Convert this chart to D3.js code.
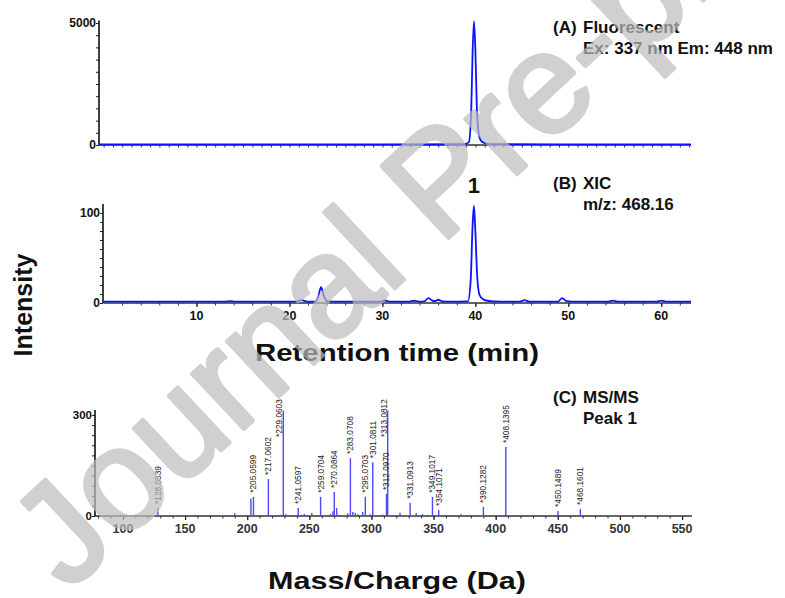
<!DOCTYPE html>
<html>
<head>
<meta charset="utf-8">
<script src="https://cdn.jsdelivr.net/npm/d3@7"></script>
<style>
  body { margin: 0; background: #fff; }
  text { font-family: "Liberation Sans", Arial, Helvetica, sans-serif; }
</style>
</head>
<body>
<svg id="chart" width="785" height="598"></svg>
<script>
// ---------- (A) fluorescence trace, Ex 337 / Em 448 ----------
const fluoTime = [-0.5, 10, 20, 30, 38.8, 39.3, 39.55, 39.7, 39.85, 40.0, 40.15, 40.35, 40.6, 41.0, 41.6, 50, 63.2];
const fluoInt  = [25, 25, 25, 25, 30, 120, 1400, 3800, 5080, 3900, 1600, 500, 180, 80, 35, 25, 25];

// ---------- (B) extracted ion chromatogram, m/z 468.16 ----------
const xicTime = [0, 13, 13.6, 14.2, 20.7, 21.3, 21.9, 22.8, 23.1, 23.4, 23.7, 24.05, 24.6, 29.8, 30.3, 30.8,
                 32.9, 33.4, 33.9, 34.5, 34.95, 35.4, 35.7, 36.0, 36.45, 37.2, 39.2, 39.5, 39.7, 39.85, 40.0,
                 40.2, 40.45, 40.8, 41.3, 42.0, 44.8, 45.3, 45.8, 48.9, 49.35, 49.8, 50.4, 54.3, 54.8, 55.3,
                 59.5, 60.0, 60.5, 63.2];
const xicInt  = [1.5, 1.5, 2.0, 1.5, 1.5, 3.2, 1.5, 1.6, 7, 17.5, 8, 2, 1.5, 1.5, 2.8, 1.5,
                 1.5, 2.5, 1.5, 1.8, 5.5, 2.5, 2.2, 3.6, 1.8, 1.5, 1.8, 25, 85, 108, 80,
                 30, 9, 4.5, 2.5, 1.8, 1.5, 3.2, 1.5, 1.6, 5.5, 2.0, 1.5, 1.5, 2.6, 1.5,
                 1.5, 2.7, 1.5, 1.5];
const peakLabel = "1";
const peakTime = 39.85;
const peakValue = 108;

// ---------- (C) MS/MS spectrum of peak 1 ----------
const labeledMz    = [128.0539, 205.0599, 217.0602, 229.0603, 241.0597, 259.0704, 270.0864, 283.0708,
                      295.0703, 301.0811, 312.0970, 313.0812, 331.0913, 349.1017, 354.1071, 390.1282,
                      408.1395, 450.1489, 468.1601];
const labeledInt   = [24, 57, 110, 313, 24, 57, 71, 172,
                      57, 160, 65, 313, 39, 57, 18, 27,
                      205, 15, 21];
const minorMz  = [82, 98, 113, 138, 146, 158, 172, 181, 190, 199, 203, 227, 231, 244, 246, 252, 255,
                  267, 269, 272, 281, 285, 287, 289, 293, 299, 309, 323, 336, 341, 345, 372, 380, 385,
                  420, 432, 470, 500];
const minorInt = [3, 4, 2, 3, 2, 4, 2, 3, 8, 2, 52, 4, 5, 4, 6, 9, 3,
                  6, 14, 24, 8, 12, 10, 5, 12, 5, 4, 10, 9, 6, 3, 5, 2, 3,
                  2, 2, 2, 1];

// ---------- tick labels and captions ----------
const ticksA = [0, 5000];
const ticksB = [0, 100];
const ticksTime = [10, 20, 30, 40, 50, 60];
const ticksC = [0, 300];
const ticksMz = [100, 150, 200, 250, 300, 350, 400, 450, 500, 550];
const captionA = ["(A)", "Fluorescent", "Ex: 337 nm Em: 448 nm"];
const captionB = ["(B)", "XIC", "m/z: 468.16"];
const captionC = ["(C)", "MS/MS", "Peak 1"];
const titleTime = "Retention time (min)";
const titleMz = "Mass/Charge (Da)";
const titleY = "Intensity";
const watermark = "Journal Pre-proof";

const svg = d3.select("#chart");
svg.append("rect").attr("width", 785).attr("height", 598).attr("fill", "#fff");

const traceColor = "#0a14ff";
const barColor = "#4b4bf0";

// scales
const xA = d3.scaleLinear().domain([-0.5, 63.2]).range([99, 691]);
const yA = d3.scaleLinear().domain([0, 5000]).range([145, 23]);
const xB = d3.scaleLinear().domain([0, 63.2]).range([103.5, 691]);
const yB = d3.scaleLinear().domain([0, 100]).range([303, 213]);
const xC = d3.scaleLinear().domain([77.5, 558]).range([95, 692]);
const yC = d3.scaleLinear().domain([0, 300]).range([516, 415]);

// vertical axis with bold end labels and fine minor ticks
function yAxis(g, y, x, ticks, top, minorStep, fontSize) {
  const gy = g.append("g").attr("transform", `translate(${x},0)`);
  gy.call(d3.axisLeft(y).tickValues(d3.range(0, top, minorStep)).tickSize(3).tickFormat(""))
    .call(s => s.select(".domain").remove())
    .call(s => s.selectAll("line").attr("stroke", "#222").attr("stroke-width", 1));
  gy.append("line").attr("y1", y(0)).attr("y2", y(top)).attr("stroke", "#111").attr("stroke-width", 1.6);
  gy.selectAll("text.lab").data(ticks).join("text").attr("class", "lab")
    .attr("x", -3).attr("y", d => y(d)).attr("dy", "0.36em")
    .attr("text-anchor", "end").attr("font-weight", "bold").attr("font-size", fontSize)
    .attr("fill", "#111").text(d => d);
}

// horizontal axis with minor ticks below and optional labels
function xAxis(g, x, y0, minorVals, majorVals, labelY, fontSize, color) {
  const gx = g.append("g").attr("transform", `translate(0,${y0})`);
  gx.call(d3.axisBottom(x).tickValues(minorVals).tickSize(2.5).tickFormat(""))
    .call(s => s.select(".domain").remove())
    .call(s => s.selectAll("line").attr("stroke", "#333").attr("stroke-width", 1));
  if (majorVals.length) {
    gx.append("g").call(d3.axisBottom(x).tickValues(majorVals).tickSize(4).tickFormat(""))
      .call(s => s.select(".domain").remove())
      .call(s => s.selectAll("line").attr("stroke", "#222").attr("stroke-width", 1.2));
    gx.selectAll("text.lab").data(majorVals).join("text").attr("class", "lab")
      .attr("x", d => x(d)).attr("y", labelY)
      .attr("text-anchor", "middle").attr("font-weight", "bold").attr("font-size", fontSize)
      .attr("fill", color).text(d => d);
  }
  gx.append("line").attr("x1", x.range()[0]).attr("x2", x.range()[1])
    .attr("stroke", "#333").attr("stroke-width", 1.4);
}

function caption(lines, x, y) {
  const g = svg.append("g").attr("font-weight", "bold").attr("font-size", 17).attr("fill", "#111");
  g.append("text").attr("x", x).attr("y", y).text(lines[0]);
  g.append("text").attr("x", x + 30).attr("y", y).text(lines[1]);
  g.append("text").attr("x", x + 30).attr("y", y + 21).text(lines[2]);
}

// ---------- panel A ----------
const gA = svg.append("g");
xAxis(gA, xA, 145, d3.range(0, 64, 1), [], 0, 12, "#111");
yAxis(gA, yA, 99, ticksA, 5100, 500, 12);
gA.append("path")
  .datum(fluoTime.map((t, i) => [t, fluoInt[i]]))
  .attr("fill", "none").attr("stroke", traceColor).attr("stroke-width", 1.8)
  .attr("d", d3.line().x(d => xA(d[0])).y(d => yA(d[1])).curve(d3.curveMonotoneX));
caption(captionA, 553, 33);

// ---------- panel B ----------
const gB = svg.append("g");
xAxis(gB, xB, 303, d3.range(2, 64, 2), ticksTime, 17, 12.5, "#111");
yAxis(gB, yB, 103, ticksB, 110, 10, 12);
gB.append("path")
  .datum(xicTime.map((t, i) => [t, xicInt[i]]))
  .attr("fill", "none").attr("stroke", traceColor).attr("stroke-width", 1.8)
  .attr("d", d3.line().x(d => xB(d[0])).y(d => yB(d[1])).curve(d3.curveMonotoneX));
gB.append("text").attr("x", xB(peakTime)).attr("y", yB(peakValue) - 13)
  .attr("text-anchor", "middle").attr("font-weight", "bold").attr("font-size", 22)
  .attr("fill", "#111").text(peakLabel);
caption(captionB, 553, 189);

// ---------- panel C ----------
const gC = svg.append("g");
xAxis(gC, xC, 516, d3.range(80, 558, 10), ticksMz, 17, 12.5, "#333");
yAxis(gC, yC, 95, ticksC, 315, 30, 11.5);
const allMz = minorMz.concat(labeledMz);
const allInt = minorInt.concat(labeledInt);
gC.selectAll("line.bar").data(allMz.map((m, i) => [m, allInt[i]])).join("line").attr("class", "bar")
  .attr("x1", d => xC(d[0])).attr("x2", d => xC(d[0]))
  .attr("y1", yC(0)).attr("y2", d => yC(d[1]))
  .attr("stroke", barColor).attr("stroke-width", 1.4);
// fragment labels; the tallest peaks carry theirs alongside the bar
const labelTop = 437;
gC.selectAll("text.frag").data(labeledMz.map((m, i) => [m, labeledInt[i]])).join("text").attr("class", "frag")
  .attr("transform", d => {
    const yTop = yC(d[1]) - 4;
    const beside = yTop < labelTop;
    const y0 = beside ? labelTop : yTop;
    const x0 = xC(d[0]) + (beside ? -1 : 3);
    return `translate(${x0},${y0}) rotate(-90)`;
  })
  .attr("font-size", 8.3).attr("fill", "#222").text(d => "*" + d[0].toFixed(4));
caption(captionC, 553, 403);

// ---------- axis titles ----------
svg.append("text").attr("x", 397).attr("y", 361).attr("text-anchor", "middle")
  .attr("font-weight", "bold").attr("font-size", 24).attr("fill", "#111")
  .attr("textLength", 284).attr("lengthAdjust", "spacingAndGlyphs").text(titleTime);
svg.append("text").attr("x", 397).attr("y", 589).attr("text-anchor", "middle")
  .attr("font-weight", "bold").attr("font-size", 24).attr("fill", "#111")
  .attr("textLength", 258).attr("lengthAdjust", "spacingAndGlyphs").text(titleMz);
svg.append("text").attr("transform", "translate(32,305) rotate(-90)").attr("text-anchor", "middle")
  .attr("font-weight", "bold").attr("font-size", 25).attr("fill", "#111").text(titleY);

// ---------- watermark (translucent, heavy strokes) ----------
svg.append("g").attr("opacity", 0.7)
  .append("text").attr("transform", "translate(68,593) rotate(-43)")
  .attr("font-size", 143).attr("fill", "#bdbdbd")
  .attr("stroke", "#bdbdbd").attr("stroke-width", 4).attr("stroke-linejoin", "round")
  .text(watermark);
</script>
</body>
</html>
